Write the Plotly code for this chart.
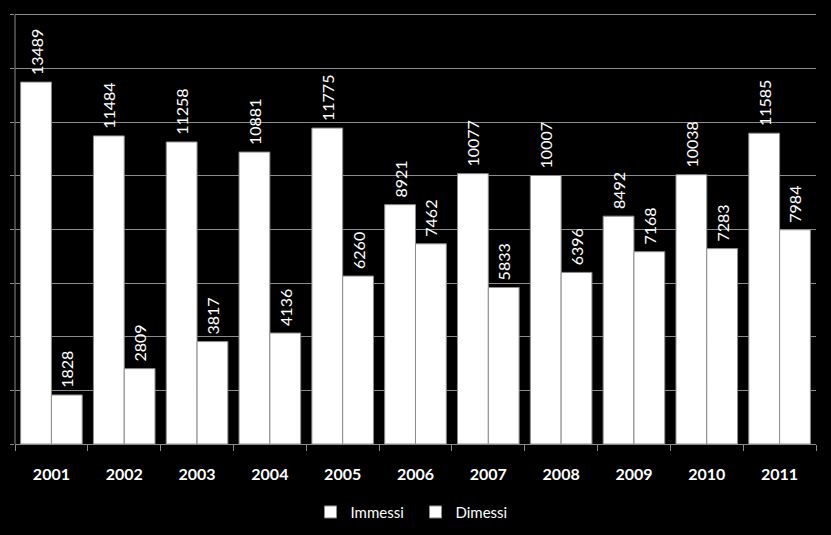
import plotly.graph_objects as go

years = ["2001", "2002", "2003", "2004", "2005", "2006", "2007", "2008", "2009", "2010", "2011"]
immessi = [13489, 11484, 11258, 10881, 11775, 8921, 10077, 10007, 8492, 10038, 11585]
dimessi = [1828, 2809, 3817, 4136, 6260, 7462, 5833, 6396, 7168, 7283, 7984]
y_max = 16000
y_step = 2000

GRID = "#8c8c8c"
FONT = "Lato"

fig = go.Figure()
for name, vals in [("Immessi", immessi), ("Dimessi", dimessi)]:
    fig.add_trace(go.Bar(
        name=name, x=years, y=vals,
        marker=dict(color="white", line=dict(color="#8c8c8c", width=1)),
        text=["\u00a0" + str(v) for v in vals], textposition="outside", textangle=-90,
        textfont=dict(family=FONT, size=16, color="white"),
        constraintext="none", cliponaxis=False,
    ))

# vertical value-axis line (from 0 to the top gridline)
fig.add_shape(type="line", xref="paper", yref="y", x0=0, x1=0, y0=0, y1=y_max,
              line=dict(color=GRID, width=1), layer="above")

fig.update_layout(
    width=831, height=535,
    paper_bgcolor="black", plot_bgcolor="black",
    margin=dict(l=15, r=15, t=4, b=91, autoexpand=False),
    barmode="group", bargap=0.154, bargroupgap=0,
    showlegend=True,
    legend=dict(orientation="h", x=0.5, xanchor="center", y=-0.155, yanchor="middle",
                font=dict(family=FONT, size=15, color="white"), bgcolor="rgba(0,0,0,0)",
                itemwidth=30, entrywidth=60, traceorder="normal"),
    xaxis=dict(showline=True, linecolor=GRID, linewidth=1, ticks="outside", ticklen=6,
               tickcolor=GRID, tickson="boundaries", ticklabelstandoff=16, automargin=False,
               tickfont=dict(family=FONT, size=16, color="white", weight="bold"),
               showgrid=False),
    yaxis=dict(range=[0, y_max * 1.025], tick0=0, dtick=y_step, showgrid=True, gridcolor=GRID,
               gridwidth=1, showline=False, ticks="outside", ticklen=4, tickcolor=GRID,
               showticklabels=False, zeroline=False, automargin=False),
)

fig.write_html("out.html")
